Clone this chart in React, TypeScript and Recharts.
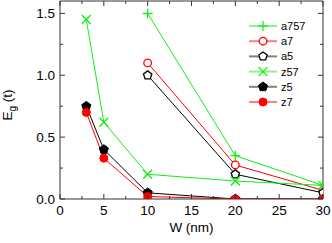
import React from "react"
import { LineChart, Line, XAxis, YAxis } from "recharts"

// W (nm) values for each family
const wA = [10, 20, 30]
const wZ = [3, 5, 10, 20, 30]

// Eg (t) values
const a757 = [1.5, 0.35, 0.11]
const a7 = [1.1, 0.275, 0.07]
const a5 = [1.0, 0.2, 0.05]
const z57 = [1.45, 0.62, 0.2, 0.145, 0.11]
const z5 = [0.75, 0.4, 0.05, 0.0, 0.0]
const z7 = [0.7, 0.33, 0.02, 0.0, 0.0]

const xTicks = [0, 2.5, 5, 7.5, 10, 12.5, 15, 17.5, 20, 22.5, 25, 27.5, 30]
const yTicks = [0, 0.25, 0.5, 0.75, 1.0, 1.25, 1.5]

const GREEN = "#11ee11"
const RED = "#ff0000"
const BLACK = "#000000"
const AXIS = "#333333"
const FONT = "'Liberation Sans', Arial, sans-serif"
const FS = 13.5

const toPts = (xs: number[], ys: number[]) => xs.map((w, i) => ({ w, v: ys[i] }))

const pentagon = (cx: number, cy: number, r: number) =>
  [0, 1, 2, 3, 4]
    .map((k) => {
      const a = -Math.PI / 2 + (k * 2 * Math.PI) / 5
      return `${cx + r * Math.cos(a)},${cy + r * Math.sin(a)}`
    })
    .join(" ")

type Marker = "plus" | "ocircle" | "opent" | "cross" | "fpent" | "fcircle"

const drawMarker = (m: Marker, cx: number, cy: number, color: string, key?: string) => {
  switch (m) {
    case "plus":
      return (
        <g key={key}>
          <line x1={cx - 5} y1={cy} x2={cx + 5} y2={cy} stroke={color} strokeWidth={1.3} />
          <line x1={cx} y1={cy - 5} x2={cx} y2={cy + 5} stroke={color} strokeWidth={1.3} />
        </g>
      )
    case "cross":
      return (
        <g key={key}>
          <line x1={cx - 4.5} y1={cy - 4.5} x2={cx + 4.5} y2={cy + 4.5} stroke={color} strokeWidth={1.3} />
          <line x1={cx - 4.5} y1={cy + 4.5} x2={cx + 4.5} y2={cy - 4.5} stroke={color} strokeWidth={1.3} />
        </g>
      )
    case "ocircle":
      return <circle key={key} cx={cx} cy={cy} r={3.8} fill="#fff" stroke={color} strokeWidth={1.3} />
    case "fcircle":
      return <circle key={key} cx={cx} cy={cy} r={4} fill={color} stroke={color} />
    case "opent":
      return <polygon key={key} points={pentagon(cx, cy, 4.4)} fill="#fff" stroke={color} strokeWidth={1.3} />
    case "fpent":
      return <polygon key={key} points={pentagon(cx, cy, 4.8)} fill={color} stroke={color} />
  }
}

const series = [
  { name: "a757", data: toPts(wA, a757), color: GREEN, marker: "plus" as Marker },
  { name: "a7", data: toPts(wA, a7), color: RED, marker: "ocircle" as Marker },
  { name: "a5", data: toPts(wA, a5), color: BLACK, marker: "opent" as Marker },
  { name: "z57", data: toPts(wZ, z57), color: GREEN, marker: "cross" as Marker },
  { name: "z5", data: toPts(wZ, z5), color: BLACK, marker: "fpent" as Marker },
  { name: "z7", data: toPts(wZ, z7), color: RED, marker: "fcircle" as Marker },
]

const BottomTick = (props: any) => {
  const { x, y, payload } = props
  const major = payload.value % 5 === 0
  return (
    <g>
      <line x1={x} y1={y} x2={x} y2={y - (major ? 5 : 3)} stroke={AXIS} />
      {major && (
        <text x={x} y={y + 16} textAnchor="middle" fontSize={FS} fontFamily={FONT} fill="#000">
          {payload.value}
        </text>
      )}
    </g>
  )
}

const TopTick = (props: any) => {
  const { x, y, payload } = props
  const major = payload.value % 5 === 0
  return <line x1={x} y1={y} x2={x} y2={y + (major ? 5 : 3)} stroke={AXIS} />
}

const LeftTick = (props: any) => {
  const { x, y, payload } = props
  const major = Math.abs((payload.value * 2) % 1) < 1e-6
  return (
    <g>
      <line x1={x} y1={y} x2={x + (major ? 5 : 3)} y2={y} stroke={AXIS} />
      {major && (
        <text x={x - 5} y={y + 4.7} textAnchor="end" fontSize={FS} fontFamily={FONT} fill="#000">
          {payload.value.toFixed(1)}
        </text>
      )}
    </g>
  )
}

const RightTick = (props: any) => {
  const { x, y, payload } = props
  const major = Math.abs((payload.value * 2) % 1) < 1e-6
  return <line x1={x} y1={y} x2={x - (major ? 5 : 3)} y2={y} stroke={AXIS} />
}

const YLabel = () => (
  <text transform="translate(12,105) rotate(-90)" textAnchor="middle" fontSize={FS} fontFamily={FONT} fill="#000">
    <tspan>E</tspan>
    <tspan fontSize={10} dy={4}>g</tspan>
    <tspan dy={-4}> (t)</tspan>
  </text>
)

const LegendBox = () => (
  <svg width={80} height={96}>
    {series.map((s, i) => {
      const y = 8 + i * 15.2
      return (
        <g key={s.name}>
          <line x1={1} y1={y} x2={29} y2={y} stroke={s.color} strokeOpacity={0.5} strokeWidth={2} />
          {drawMarker(s.marker, 15, y, s.color)}
          <text x={33} y={y + 4} fontSize={11} fontFamily={FONT} fill="#000">
            {s.name}
          </text>
        </g>
      )
    })}
  </svg>
)

const axisCommon = {
  type: "number" as const,
  interval: 0 as const,
  allowDataOverflow: true,
  stroke: AXIS,
  tickLine: false,
  tickSize: 0,
  tickMargin: 0,
}

export default function App() {
  return (
    <div style={{ position: "fixed", left: 0, top: 0, width: 332, height: 243, background: "#fff" }}>
      <LineChart width={332} height={243} margin={{ top: 0, right: 4, bottom: 0, left: 0 }}>
        <XAxis
          {...axisCommon}
          xAxisId="b"
          dataKey="w"
          domain={[0, 30]}
          ticks={xTicks}
          height={44}
          tick={<BottomTick />}
          label={{ value: "W (nm)", position: "insideBottom", offset: 11, fontSize: FS, fontFamily: FONT, fill: "#000" }}
        />
        <XAxis
          {...axisCommon}
          xAxisId="t"
          orientation="top"
          dataKey="w"
          domain={[0, 30]}
          ticks={xTicks}
          height={1}
          tick={<TopTick />}
        />
        <YAxis
          {...axisCommon}
          yAxisId="l"
          domain={[0, 1.6]}
          ticks={yTicks}
          width={60}
          tick={<LeftTick />}
          label={<YLabel />}
        />
        <YAxis
          {...axisCommon}
          yAxisId="r"
          orientation="right"
          domain={[0, 1.6]}
          ticks={yTicks}
          width={5}
          tick={<RightTick />}
        />
        {/* invisible series so the mirrored top/right frame axes are rendered */}
        <Line
          xAxisId="t"
          yAxisId="r"
          data={series[3].data}
          dataKey="v"
          stroke="none"
          dot={false}
          activeDot={false}
          legendType="none"
          isAnimationActive={false}
        />
        {series.map((s) => (
          <Line
            key={s.name}
            xAxisId="b"
            yAxisId="l"
            data={s.data}
            dataKey="v"
            name={s.name}
            stroke={s.color}
            strokeWidth={1}
            isAnimationActive={false}
            dot={(p: any) => drawMarker(s.marker, p.cx, p.cy, s.color, `${s.name}-${p.index}`)}
            activeDot={false}
          />
        ))}
      </LineChart>
      <div style={{ position: "absolute", left: 248, top: 18 }}>
        <LegendBox />
      </div>
    </div>
  )
}
